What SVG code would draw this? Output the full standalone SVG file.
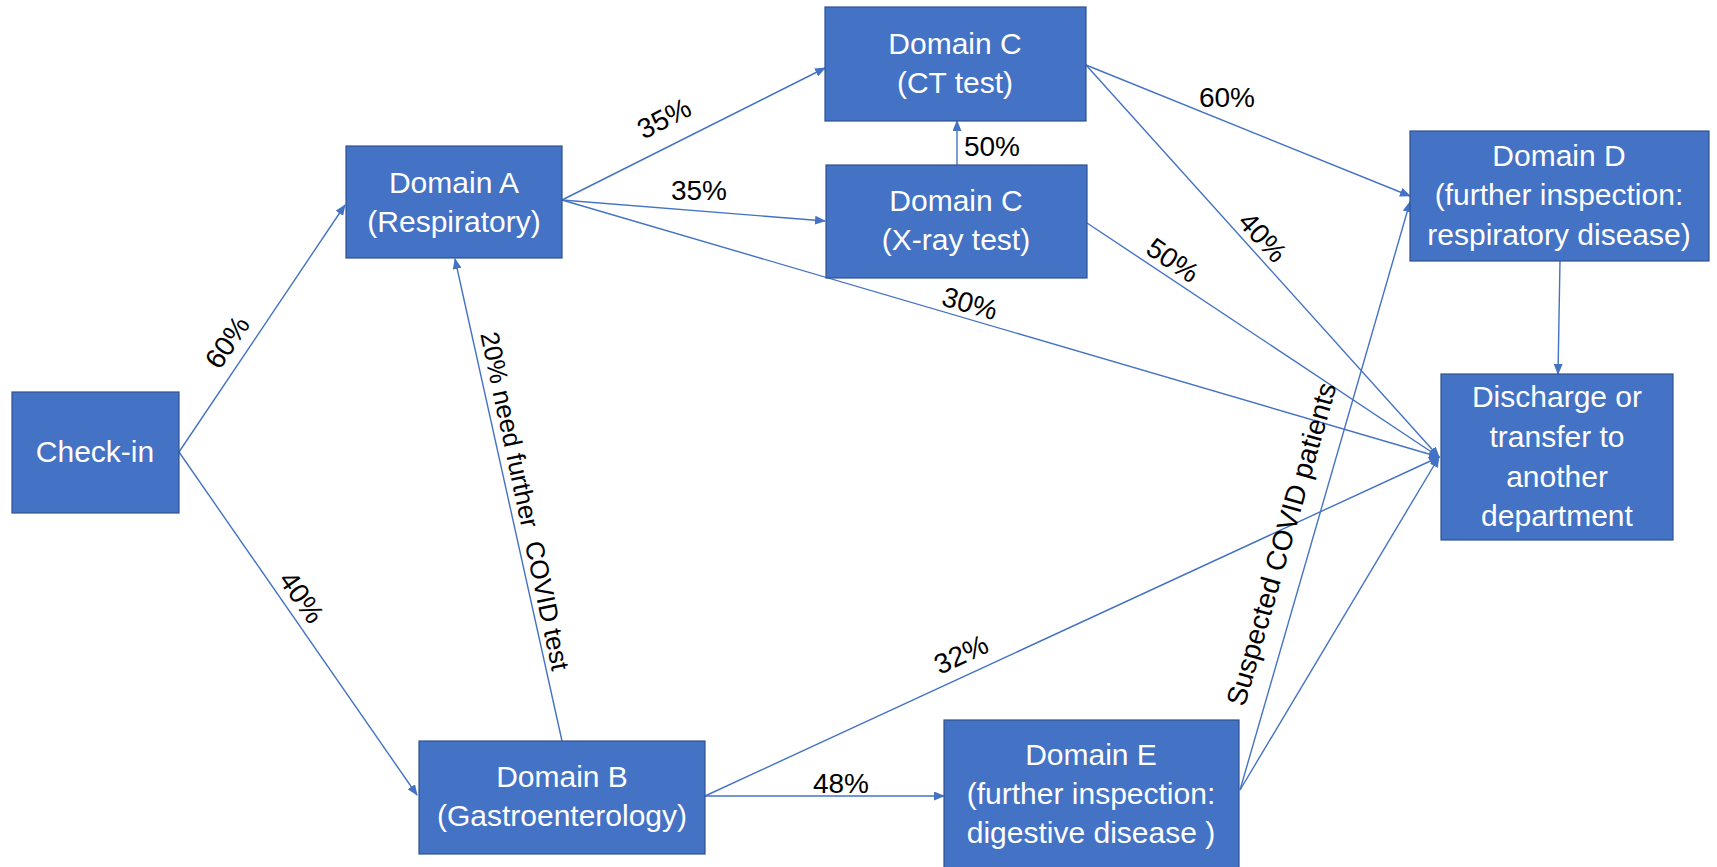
<svg xmlns="http://www.w3.org/2000/svg" width="1717" height="867" viewBox="0 0 1717 867">
<defs>
<marker id="arr" markerUnits="userSpaceOnUse" markerWidth="11" markerHeight="9" refX="10" refY="4.5" orient="auto">
<path d="M0,0 L11,4.5 L0,9 z" fill="#4472C4"/>
</marker>
<style>
.box{fill:#4472C4;stroke:#2F528F;stroke-width:1.2}
.bt{font-family:"Liberation Sans",Arial,sans-serif;font-size:30px;fill:#ffffff;text-anchor:middle}
.lbl{font-family:"Liberation Sans",Arial,sans-serif;font-size:28px;fill:#000000;text-anchor:middle}
.ln{stroke:#4472C4;stroke-width:1.4;fill:none;marker-end:url(#arr)}
</style>
</defs>
<rect width="1717" height="867" fill="#ffffff"/>
<g id="connectors">
<line class="ln" x1="179" y1="452" x2="345" y2="205"/>
<line class="ln" x1="179" y1="452" x2="417" y2="795"/>
<line class="ln" x1="562" y1="200" x2="825" y2="68"/>
<line class="ln" x1="562" y1="200" x2="825" y2="221"/>
<line class="ln" x1="562" y1="200" x2="1439" y2="457"/>
<line class="ln" x1="957" y1="165" x2="957" y2="121"/>
<line class="ln" x1="1086" y1="65" x2="1410" y2="196"/>
<line class="ln" x1="1086" y1="65" x2="1439" y2="457"/>
<line class="ln" x1="1087" y1="223" x2="1439" y2="457"/>
<line class="ln" x1="562" y1="741" x2="455" y2="259"/>
<line class="ln" x1="705" y1="796" x2="1439" y2="457"/>
<line class="ln" x1="705" y1="796" x2="944" y2="796"/>
<line class="ln" x1="1240" y1="790" x2="1410" y2="202"/>
<line class="ln" x1="1240" y1="790" x2="1439" y2="457"/>
<line class="ln" x1="1560" y1="261" x2="1558" y2="374"/>
<g id="edge-labels">
<text class="lbl" transform="translate(227,342) rotate(-56)" y="10">60%</text>
<text class="lbl" transform="translate(302,597) rotate(55)" y="10">40%</text>
<text class="lbl" transform="translate(664,118) rotate(-27)" y="10">35%</text>
<text class="lbl" x="699" y="200">35%</text>
<text class="lbl" transform="translate(970,303) rotate(16)" y="10">30%</text>
<text class="lbl" x="992" y="156">50%</text>
<text class="lbl" x="1227" y="107">60%</text>
<text class="lbl" transform="translate(1263,237) rotate(48)" y="10">40%</text>
<text class="lbl" transform="translate(1173,260) rotate(34)" y="10">50%</text>
<text class="lbl" transform="translate(961,654) rotate(-25)" y="10">32%</text>
<text class="lbl" x="841" y="793">48%</text>
<text class="lbl" style="font-size:26px" transform="translate(525,501) rotate(78)" y="9" xml:space="preserve">20% need further  COVID test</text>
<text class="lbl" transform="translate(1281,544) rotate(-74)" y="10">Suspected COVID patients</text>
</g>
</g>
<g id="check-in">
<rect class="box" x="12" y="392" width="167" height="121"/>
<text class="bt" x="95" y="462">Check-in</text>
</g>
<g id="domain-a">
<rect class="box" x="346" y="146" width="216" height="112"/>
<text class="bt" x="454" y="193">Domain A</text>
<text class="bt" x="454" y="232">(Respiratory)</text>
</g>
<g id="domain-c-ct">
<rect class="box" x="825" y="7" width="261" height="114"/>
<text class="bt" x="955" y="54">Domain C</text>
<text class="bt" x="955" y="93">(CT test)</text>
</g>
<g id="domain-c-xray">
<rect class="box" x="826" y="165" width="261" height="113"/>
<text class="bt" x="956" y="211">Domain C</text>
<text class="bt" x="956" y="250">(X-ray test)</text>
</g>
<g id="domain-d">
<rect class="box" x="1410" y="131" width="299" height="130"/>
<text class="bt" x="1559" y="166">Domain D</text>
<text class="bt" x="1559" y="205">(further inspection:</text>
<text class="bt" x="1559" y="245">respiratory disease)</text>
</g>
<g id="discharge">
<rect class="box" x="1441" y="374" width="232" height="166"/>
<text class="bt" x="1557" y="407">Discharge or</text>
<text class="bt" x="1557" y="447">transfer to</text>
<text class="bt" x="1557" y="487">another</text>
<text class="bt" x="1557" y="526">department</text>
</g>
<g id="domain-b">
<rect class="box" x="419" y="741" width="286" height="113"/>
<text class="bt" x="562" y="787">Domain B</text>
<text class="bt" x="562" y="826">(Gastroenterology)</text>
</g>
<g id="domain-e">
<rect class="box" x="944" y="720" width="295" height="160"/>
<text class="bt" x="1091" y="765">Domain E</text>
<text class="bt" x="1091" y="804">(further inspection:</text>
<text class="bt" x="1091" y="843">digestive disease )</text>
</g>
</svg>
